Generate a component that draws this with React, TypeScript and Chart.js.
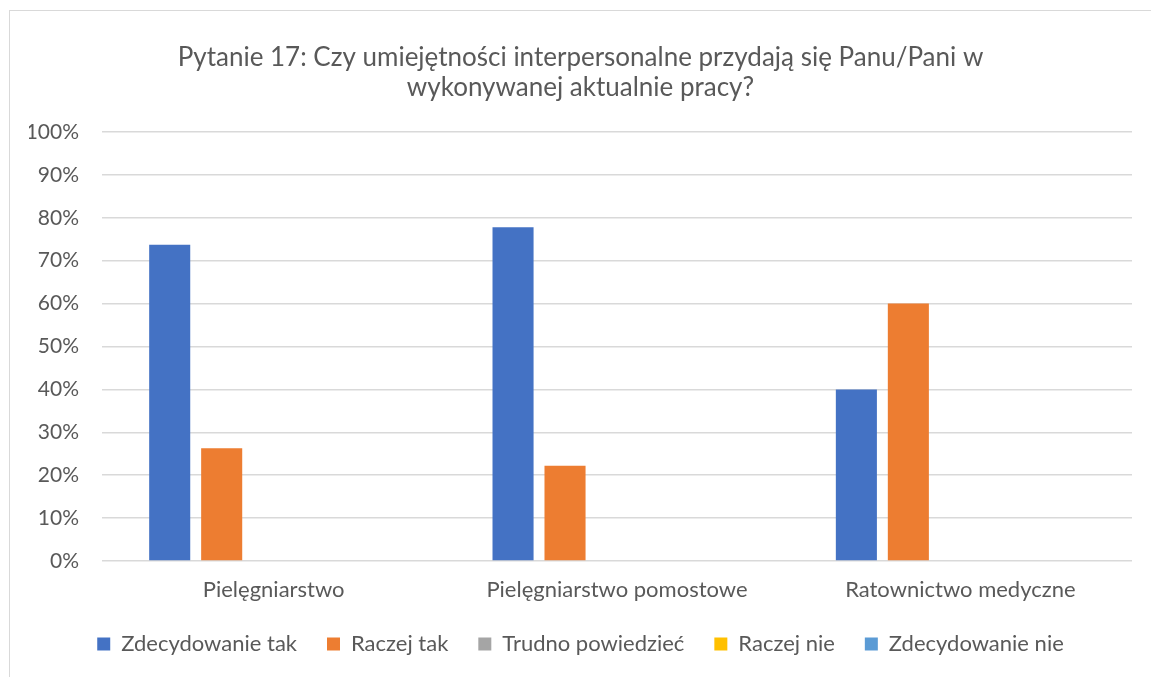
import React, { useEffect, useRef } from "react";
import { Chart, registerables } from "chart.js";

Chart.register(...registerables);

const titleLines = [
  "Pytanie 17: Czy umiejętności interpersonalne przydają się Panu/Pani w",
  "wykonywanej aktualnie pracy?",
];
const categories = ["Pielęgniarstwo", "Pielęgniarstwo pomostowe", "Ratownictwo medyczne"];
const seriesNames = ["Zdecydowanie tak", "Raczej tak", "Trudno powiedzieć", "Raczej nie", "Zdecydowanie nie"];
const zdecydowanieTak = [0.737, 0.778, 0.4];
const raczejTak = [0.263, 0.222, 0.6];
const trudnoPowiedziec = [0, 0, 0];
const raczejNie = [0, 0, 0];
const zdecydowanieNie = [0, 0, 0];
const seriesColors = ["#4472C4", "#ED7D31", "#A5A5A5", "#FFC000", "#5B9BD5"];
const yMin = 0;
const yMax = 1;
const yStep = 0.1;

const FONT = "Lato, 'Noto Sans', sans-serif";
const TEXT = "#595959";

export default function App() {
  const ref = useRef<HTMLCanvasElement | null>(null);

  useEffect(() => {
    document.body.style.overflow = "hidden";
    const canvas = ref.current;
    if (!canvas) return;
    const seriesValues = [zdecydowanieTak, raczejTak, trudnoPowiedziec, raczejNie, zdecydowanieNie];
    const chart = new Chart(canvas, {
      type: "bar",
      data: {
        labels: categories,
        datasets: seriesNames.map((name, i) => ({
          label: name,
          data: seriesValues[i],
          backgroundColor: seriesColors[i],
          borderWidth: 0,
          categoryPercentage: 0.757,
          barPercentage: 0.79,
        })),
      },
      options: {
        animation: false,
        responsive: false,
        maintainAspectRatio: false,
        layout: { padding: { left: 19, right: 19, top: 0, bottom: 12 } },
        plugins: {
          title: {
            display: true,
            text: titleLines,
            color: TEXT,
            font: { family: FONT, size: 26, weight: "normal", lineHeight: 30 / 26 },
            padding: { top: 32, bottom: 29 },
          },
          legend: {
            position: "bottom",
            labels: {
              color: TEXT,
              font: { family: FONT, size: 22 },
              boxWidth: 13,
              boxHeight: 13,
              padding: 30,
            },
          },
          tooltip: { enabled: false },
        },
        scales: {
          x: {
            grid: { display: false, drawTicks: false },
            border: { display: false },
            ticks: { color: TEXT, font: { family: FONT, size: 22 }, padding: 16, maxRotation: 0 },
            afterFit: (scale: any) => {
              scale.height = 42;
            },
          },
          y: {
            min: yMin,
            max: yMax,
            grid: { color: "#D9D9D9", lineWidth: 1.5, drawTicks: false },
            border: { display: false },
            ticks: {
              stepSize: yStep,
              color: TEXT,
              font: { family: FONT, size: 21 },
              padding: 23,
              callback: (v: any) => Math.round(Number(v) * 100) + "%",
            },
            afterFit: (scale: any) => {
              scale.width = 73;
            },
          },
        },
      },
    });
    return () => chart.destroy();
  }, []);

  return (
    <div
      style={{
        position: "fixed",
        left: 9,
        top: 10,
        width: 1170,
        height: 690,
        border: "1px solid #D9D9D9",
        background: "#fff",
      }}
    >
      <canvas ref={ref} width={1141} height={666} style={{ display: "block", width: 1141, height: 666 }} />
    </div>
  );
}
